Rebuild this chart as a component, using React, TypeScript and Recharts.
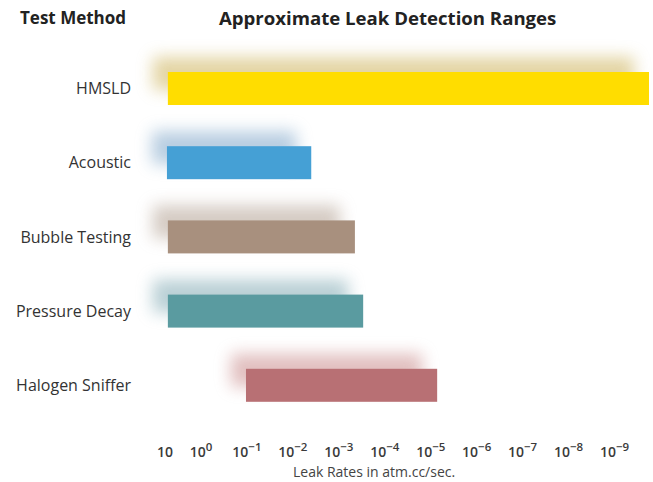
import React from 'react';
import { BarChart, Bar, XAxis, YAxis } from 'recharts';

// Test methods (top to bottom)
const METHODS = ['HMSLD', 'Acoustic', 'Bubble Testing', 'Pressure Decay', 'Halogen Sniffer'];
// log10 of the leak rate (atm.cc/sec) where each detection range starts and ends
const RANGE_START = [0.72, 0.74, 0.72, 0.72, -0.98];
const RANGE_END = [-9.75, -2.4, -3.35, -3.53, -5.14];
const COLORS = ['#FFDD00', '#45A0D5', '#A8907E', '#5A9BA0', '#B87074'];
const SHADOWS = ['#cdb25a', '#7fa6c9', '#b3a193', '#80a9b3', '#c98b8b'];
// x-axis tick positions (log10 units) and labels
const TICK_VALUES = [0.78, 0, -1, -2, -3, -4, -5, -6, -7, -8, -9];
const TICK_BASES = ['10', '10', '10', '10', '10', '10', '10', '10', '10', '10', '10'];
const TICK_EXPONENTS = ['', '0', '−1', '−2', '−3', '−4', '−5', '−6', '−7', '−8', '−9'];

const FONT = '"Open Sans", "Noto Sans", sans-serif';

const data = METHODS.map((m, i) => ({ method: m, range: [RANGE_START[i], RANGE_END[i]], idx: i }));

const RangeShape = (props: any) => {
  const { x, y, width, height, payload } = props;
  const i = payload.idx;
  const left = Math.min(x, x + width);
  const w = Math.abs(width);
  const id = `shadow-${i}`;
  return (
    <g>
      <defs>
        <filter id={id} x="-40%" y="-150%" width="180%" height="400%">
          <feGaussianBlur stdDeviation={8} />
        </filter>
      </defs>
      <rect x={left - 15} y={y - 15} width={w} height={height} fill={SHADOWS[i]} opacity={0.55} filter={`url(#${id})`} />
      <rect x={left} y={y} width={w} height={height} fill={COLORS[i]} />
    </g>
  );
};

const XTick = (props: any) => {
  const { x, payload } = props;
  const i = TICK_VALUES.indexOf(payload.value);
  if (i < 0) return null;
  const exp = TICK_EXPONENTS[i];
  return (
    <text x={x} y={457} textAnchor="middle" fontFamily={FONT} fontSize={14} fontWeight={600} fill="#3a3a3a">
      {TICK_BASES[i]}
      {exp ? <tspan dy={-6} fontSize={11.5}>{exp}</tspan> : null}
    </text>
  );
};

const YTick = (props: any) => {
  const { y, payload } = props;
  return (
    <text x={131} y={y} dy={6} textAnchor="end" fontFamily={FONT} fontSize={16} fill="#333">
      {payload.value}
    </text>
  );
};

export default function App() {
  return (
    <div style={{ position: 'absolute', left: 0, top: 0, width: 653, height: 482, background: '#fff' }}>
      <BarChart
        width={653}
        height={482}
        data={data}
        layout="vertical"
        margin={{ top: 51, right: 4, bottom: 0, left: 0 }}
        barCategoryGap={0}
      >
        <XAxis
          type="number"
          domain={[-9.75, 1]}
          reversed
          ticks={TICK_VALUES}
          interval={0}
          axisLine={false}
          tickLine={false}
          height={60}
          tick={<XTick />}
        />
        <YAxis
          type="category"
          dataKey="method"
          width={155}
          axisLine={false}
          tickLine={false}
          tick={<YTick />}
        />
        <Bar dataKey="range" barSize={33} shape={<RangeShape />} isAnimationActive={false} />
      </BarChart>
      <div style={{ position: 'absolute', left: 20, top: 6, fontFamily: FONT, fontWeight: 700, fontSize: 17, color: '#222', lineHeight: '24px' }}>
        Test Method
      </div>
      <div style={{ position: 'absolute', left: 219, top: 5, fontFamily: FONT, fontWeight: 700, fontSize: 18.6, color: '#222', lineHeight: '26px', whiteSpace: 'nowrap' }}>
        Approximate Leak Detection Ranges
      </div>
      <div style={{ position: 'absolute', left: 293, top: 462, fontFamily: FONT, fontSize: 14, color: '#444', lineHeight: '20px', whiteSpace: 'nowrap' }}>
        Leak Rates in atm.cc/sec.
      </div>
    </div>
  );
}
